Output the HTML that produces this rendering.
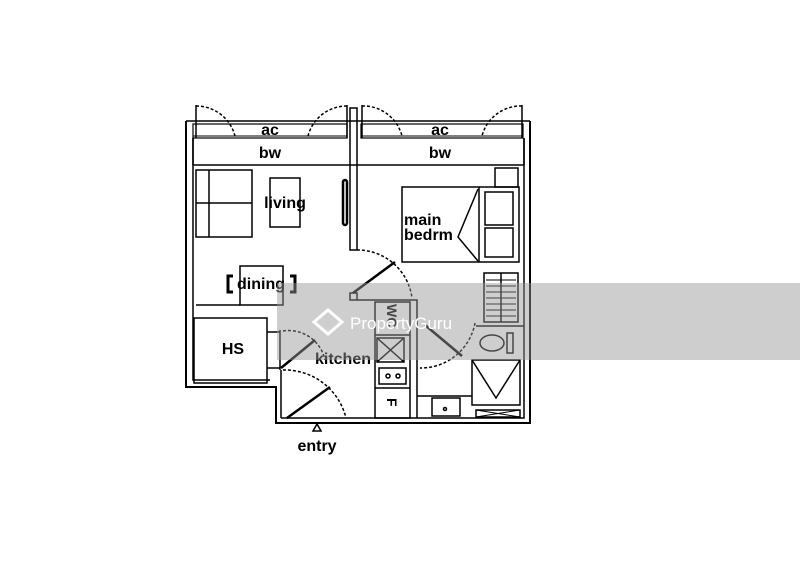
<!DOCTYPE html>
<html><head><meta charset="utf-8"><style>
html,body{margin:0;padding:0;background:#fff;}
svg{display:block;}
text{font-family:"Liberation Sans",sans-serif;font-weight:bold;fill:#000;}
</style></head><body>
<svg width="800" height="566" viewBox="0 0 800 566" xmlns="http://www.w3.org/2000/svg">
<g fill="none" stroke="#000" stroke-width="1.5">
<path d="M186 121 V387 H276 V423 H530 V121" stroke-width="2"/>
<path d="M193 138 V380 H270"/>
<path d="M524 138 V418 H281"/>
<line x1="186" y1="121" x2="530" y2="121"/>
<rect x="193" y="124" width="154" height="14" stroke-width="1.2"/>
<rect x="361" y="124" width="162" height="14" stroke-width="1.2"/>
<line x1="193" y1="136" x2="347" y2="136" stroke-width="1"/>
<line x1="361" y1="136" x2="523" y2="136" stroke-width="1"/>
<line x1="193" y1="165" x2="524" y2="165"/>
<line x1="193" y1="138" x2="193" y2="165"/>
<line x1="524" y1="138" x2="524" y2="165"/>
<rect x="350" y="108" width="7" height="142"/>
<line x1="196" y1="105" x2="196" y2="138"/>
<path d="M196 106 A40 40 0 0 1 235 136" stroke-dasharray="3 2"/>
<line x1="347" y1="105" x2="347" y2="138"/>
<path d="M347 106 A40 40 0 0 0 308 136" stroke-dasharray="3 2"/>
<line x1="362" y1="105" x2="362" y2="138"/>
<path d="M362 106 A40 40 0 0 1 402 136" stroke-dasharray="3 2"/>
<line x1="522" y1="105" x2="522" y2="138"/>
<path d="M522 106 A40 40 0 0 0 482 136" stroke-dasharray="3 2"/>
<rect x="196" y="170" width="56" height="67"/>
<line x1="209" y1="170" x2="209" y2="237"/>
<line x1="196" y1="203" x2="252" y2="203"/>
<rect x="270" y="178" width="30" height="49"/>
<rect x="343" y="180" width="4" height="45" rx="2" stroke-width="2.5"/>
<rect x="402" y="187" width="117" height="75"/>
<line x1="479" y1="187" x2="479" y2="262"/>
<path d="M478 189 L458 237 L478 261"/>
<rect x="485" y="192" width="28" height="33"/>
<rect x="485" y="228" width="28" height="29"/>
<rect x="495" y="168" width="23" height="19"/>
<line x1="196" y1="305" x2="240" y2="305"/>
<rect x="240" y="266" width="43" height="39"/>
<path d="M233 276 H228 V292 H233" stroke-width="3"/>
<path d="M290 276 H295 V292 H290" stroke-width="3"/>
<rect x="194" y="318" width="73" height="65"/>
<path d="M267 332 H280 M267 368 H280"/>
<line x1="280" y1="330" x2="280" y2="370"/>
<line x1="281" y1="368" x2="315" y2="340" stroke-width="2.5"/>
<path d="M283 331 A37 37 0 0 1 325 360" stroke-dasharray="3 2"/>
<line x1="281" y1="370" x2="281" y2="418"/>
<line x1="287" y1="418" x2="330" y2="387" stroke-width="2.5"/>
<path d="M283 370 A63 63 0 0 1 346 418" stroke-dasharray="3 2"/>
<rect x="375" y="302" width="35" height="116"/>
<line x1="375" y1="335" x2="410" y2="335"/>
<rect x="377" y="338" width="27" height="24"/>
<path d="M377 338 L404 362 M404 338 L377 362"/>
<line x1="375" y1="388" x2="410" y2="388"/>
<rect x="379" y="368" width="27" height="16"/>
<circle cx="388" cy="376" r="2"/><circle cx="398" cy="376" r="2"/>
<path d="M350 293 H357 V300 H350 Z"/>
<path d="M357 300 H417 V418"/>
<line x1="353" y1="293" x2="395" y2="262" stroke-width="2.5"/>
<path d="M357 250 A55 55 0 0 1 412 298" stroke-dasharray="3 2"/>
<line x1="425" y1="325" x2="462" y2="356" stroke-width="2.5"/>
<path d="M475 323 A55 55 0 0 1 420 368" stroke-dasharray="3 2"/>
<line x1="417" y1="396" x2="472" y2="396"/>
<rect x="432" y="398" width="28" height="18"/>
<circle cx="445" cy="409" r="1.5"/>
<rect x="484" y="273" width="34" height="49"/>
<line x1="501" y1="273" x2="501" y2="322"/>
<path d="M486 280H516M486 286H516M486 292H516M486 298H516M486 304H516M486 310H516M486 316H516" stroke-width="1"/>
<line x1="476" y1="326" x2="524" y2="326"/>
<ellipse cx="492" cy="343" rx="12" ry="8"/>
<rect x="507" y="333" width="6" height="20"/>
<rect x="472" y="360" width="48" height="45"/>
<path d="M472 360 L496 398 L520 360"/>
<rect x="476" y="410" width="44" height="7"/>
<path d="M476 410 L520 417 M520 410 L476 417" stroke-width="1"/>
<path d="M317 424 L313 431 H321 Z"/>
</g>
<text x="270" y="135" font-size="16" text-anchor="middle">ac</text>
<text x="270" y="158" font-size="16" text-anchor="middle">bw</text>
<text x="440" y="135" font-size="16" text-anchor="middle">ac</text>
<text x="440" y="158" font-size="16" text-anchor="middle">bw</text>
<text x="285" y="208" font-size="16" text-anchor="middle">living</text>
<text x="404" y="225" font-size="16">main</text>
<text x="404" y="240" font-size="16">bedrm</text>
<text x="261" y="289" font-size="16" text-anchor="middle">dining</text>
<text x="233" y="354" font-size="16" text-anchor="middle">HS</text>
<text x="343" y="364" font-size="16" text-anchor="middle">kitchen</text>
<text x="317" y="451" font-size="16" text-anchor="middle">entry</text>
<text x="0" y="0" font-size="14" transform="translate(387 304) rotate(90)">WC</text>
<text x="0" y="0" font-size="14" transform="translate(387 398) rotate(90)">F</text>
<rect x="277" y="283" width="523" height="77" fill="rgb(150,150,150)" fill-opacity="0.47"/>
<path d="M328 310 L342 322 L328 334 L314 322 Z" fill="none" stroke="#fff" stroke-width="3"/>
<text x="350" y="329" font-size="17" style="fill:#fff;font-weight:normal">PropertyGuru</text>
</svg>
</body></html>
